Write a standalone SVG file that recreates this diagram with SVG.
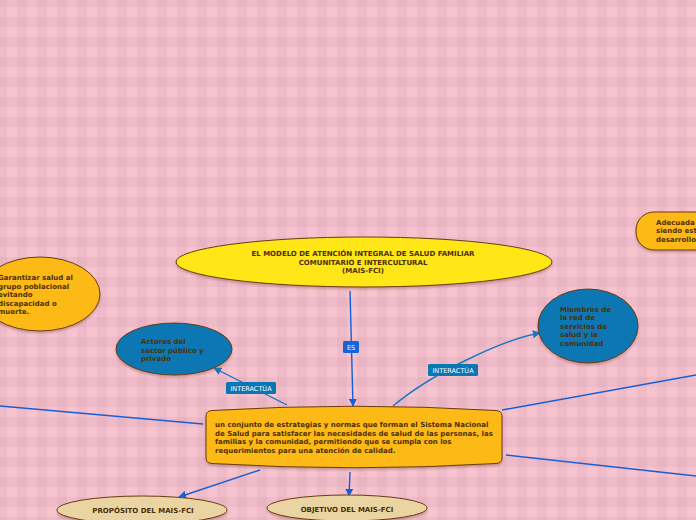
<svg xmlns="http://www.w3.org/2000/svg" width="696" height="520" viewBox="0 0 696 520">
<defs>
<pattern id="bg" width="20" height="20" patternUnits="userSpaceOnUse" x="17" y="17">
<rect width="20" height="20" fill="#f7c3cf"/>
<rect width="10" height="20" fill="#efbbc8"/>
<rect width="20" height="10" fill="#efbbc8"/>
<rect width="10" height="10" fill="#e9b4c2"/>
</pattern>
<filter id="sh" x="-10%" y="-10%" width="120%" height="130%">
<feDropShadow dx="0" dy="2" stdDeviation="1.2" flood-color="#7a4a30" flood-opacity="0.35"/>
</filter>
<marker id="arB" viewBox="0 0 10 10" refX="9" refY="5" markerWidth="8" markerHeight="8" orient="auto" markerUnits="userSpaceOnUse">
<path d="M0,0 L10,5 L0,10 z" fill="#1560d8"/>
</marker>
<marker id="arT" viewBox="0 0 10 10" refX="9" refY="5" markerWidth="8" markerHeight="8" orient="auto" markerUnits="userSpaceOnUse">
<path d="M0,0 L10,5 L0,10 z" fill="#1a78c2"/>
</marker>
</defs>
<style>
.t{font-family:"DejaVu Sans",Verdana,sans-serif;font-weight:bold;font-size:7px;fill:#4d2f06}
.tc{text-anchor:middle}
.ln{fill:none;stroke:#1560d8;stroke-width:1.4}
.lt{fill:none;stroke:#1a78c2;stroke-width:1.4}
.lb{font-family:"DejaVu Sans",Verdana,sans-serif;font-size:6.5px;fill:#ffffff;text-anchor:middle}
.node{stroke:#6b3a12;stroke-width:1}
.yel{fill:#ffe614}
.org{fill:#fdb913}
.blu{fill:#0a77b3}
.bei{fill:#ead4a2}
</style>
<rect width="696" height="520" fill="url(#bg)"/>

<g id="connectors">
<line class="ln" x1="0" y1="406" x2="203" y2="424"/>
<line class="ln" x1="502" y1="410" x2="696" y2="375"/>
<line class="ln" x1="506" y1="455" x2="696" y2="476"/>
<line class="ln" x1="350" y1="291" x2="353" y2="406" marker-end="url(#arB)"/>
<line class="lt" x1="287" y1="405" x2="214" y2="368" marker-end="url(#arT)"/>
<path class="lt" d="M393,406 C430,375 500,340 540,333" marker-end="url(#arT)"/>
<line class="ln" x1="260" y1="470" x2="179" y2="497" marker-end="url(#arB)"/>
<line class="ln" x1="350" y1="472" x2="349" y2="496" marker-end="url(#arB)"/>
<g id="label-es">
<rect x="343" y="341" width="16" height="12" rx="1.5" fill="#1565d8"/>
<text class="lb" x="351" y="349.5">ES</text>
</g>
<g id="label-interactua-1">
<rect x="226" y="382" width="50" height="12" rx="1.5" fill="#0a77b3"/>
<text class="lb" x="251" y="390.5">INTERACTÚA</text>
</g>
<g id="label-interactua-2">
<rect x="428" y="364" width="50" height="12" rx="1.5" fill="#0a77b3"/>
<text class="lb" x="453" y="372.5">INTERACTÚA</text>
</g>
</g>

<g id="n-modelo">
<ellipse class="node yel" cx="364" cy="262" rx="188" ry="25" filter="url(#sh)"/>
<text class="t tc" x="363" y="256">EL MODELO DE ATENCIÓN INTEGRAL DE SALUD FAMILIAR</text>
<text class="t tc" x="363" y="265">COMUNITARIO E INTERCULTURAL</text>
<text class="t tc" x="363" y="273">(MAIS-FCI)</text>
</g>

<g id="n-conjunto">
<path class="node org" d="M212,410.5 Q354,402 496,410.5 Q502,411 502,416 L502,458 Q502,463 496,463.5 Q354,472 212,463.5 Q206,463 206,458 L206,416 Q206,411 212,410.5 Z" filter="url(#sh)"/>
<text class="t" x="215" y="427">un conjunto de estrategias y normas que forman el Sistema Nacional</text>
<text class="t" x="215" y="436">de Salud para satisfacer las necesidades de salud de las personas, las</text>
<text class="t" x="215" y="444">familias y la comunidad, permitiendo que se cumpla con los</text>
<text class="t" x="215" y="453">requerimientos para una atención de calidad.</text>
</g>

<g id="n-garantizar">
<ellipse class="node org" cx="40" cy="294" rx="60" ry="37" filter="url(#sh)"/>
<text class="t" x="-2" y="280">Garantizar salud al</text>
<text class="t" x="-2" y="289">grupo poblacional</text>
<text class="t" x="-2" y="297">evitando</text>
<text class="t" x="-2" y="306">discapacidad o</text>
<text class="t" x="-2" y="314">muerte.</text>
</g>

<g id="n-actores">
<ellipse class="node blu" cx="174" cy="349" rx="58" ry="26" filter="url(#sh)"/>
<text class="t" x="141" y="344">Actores del</text>
<text class="t" x="141" y="353">sector público y</text>
<text class="t" x="141" y="361">privado</text>
</g>

<g id="n-miembros">
<ellipse class="node blu" cx="588" cy="326" rx="50" ry="37" filter="url(#sh)"/>
<text class="t" x="560" y="312">Miembros de</text>
<text class="t" x="560" y="320">la red de</text>
<text class="t" x="560" y="329">servicios de</text>
<text class="t" x="560" y="337">salud y la</text>
<text class="t" x="560" y="346">comunidad</text>
</g>

<g id="n-adecuada">
<rect class="node org" x="636" y="212" width="90" height="38" rx="18" filter="url(#sh)"/>
<text class="t" x="656" y="225">Adecuada</text>
<text class="t" x="656" y="233">siendo est</text>
<text class="t" x="656" y="242">desarrollo</text>
</g>

<g id="n-proposito">
<ellipse class="node bei" cx="142" cy="510" rx="85" ry="14" filter="url(#sh)"/>
<text class="t tc" x="143" y="513">PROPÓSITO DEL MAIS-FCI</text>
</g>

<g id="n-objetivo">
<ellipse class="node bei" cx="347" cy="508" rx="80" ry="13" filter="url(#sh)"/>
<text class="t tc" x="347" y="512">OBJETIVO DEL MAIS-FCI</text>
</g>
</svg>
